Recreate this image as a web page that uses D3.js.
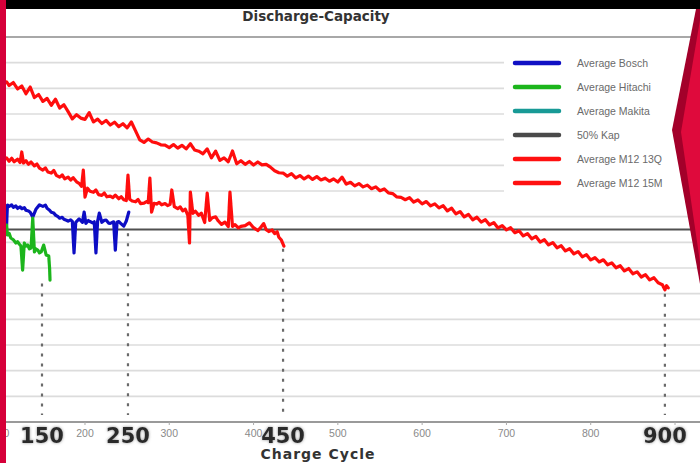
<!DOCTYPE html>
<html><head><meta charset="utf-8">
<script src="https://cdn.jsdelivr.net/npm/d3@7/dist/d3.min.js"></script>
<style>html,body{margin:0;padding:0;background:#fff;overflow:hidden}</style>
</head><body>
<script>
// ---------- DATA ----------
const titleText = "Discharge-Capacity";
const xAxisTitle = "Charge Cycle";
const cycleTicks = [100, 200, 300, 400, 500, 600, 700, 800, 900];
const capacityGridStep = 200;      // mAh between grid lines
const capacityMax = 3000;
const halfCapacity = 1500;         // 50% Kap

const legendNames = ["Average Bosch", "Average Hitachi", "Average Makita", "50% Kap", "Average M12 13Q", "Average M12 15M"];
const legendColors = ["#1010c4", "#1cb51c", "#189a96", "#4a4a4a", "#ff1010", "#ff1010"];

// Average M12 15M (long red series)
const m12LongCycles = [107,110,115,120,125,130,135,140,145,150,155,160,165,170,175,180,185,190,195,200,205,210,215,220,225,230,235,240,245,250,255,260,265,270,275,280,285,290,295,300,305,310,315,320,325,330,335,340,345,350,355,360,365,370,375,380,385,390,395,400,405,410,415,420,425,430,435,440,445,450,455,460,465,470,475,480,485,490,495,500,505,510,515,520,525,530,535,540,545,550,555,560,565,570,575,580,585,590,595,600,605,610,615,620,625,630,635,640,645,650,655,660,665,670,675,680,685,690,695,700,705,710,715,720,725,730,735,740,745,750,755,760,765,770,775,780,785,790,795,800,805,810,815,820,825,830,835,840,845,850,855,860,865,870,875,880,885,888,890,892];
const m12LongValues = [2650,2622,2645,2595,2618,2558,2610,2528,2552,2498,2522,2468,2515,2446,2472,2418,2362,2395,2368,2358,2410,2338,2360,2326,2350,2314,2336,2302,2324,2292,2338,2268,2198,2178,2205,2182,2175,2160,2158,2138,2162,2134,2156,2128,2168,2120,2110,2090,2128,2058,2110,2038,2058,2028,2112,2012,2036,2008,2030,2002,2026,2004,2008,1986,1958,1942,1940,1916,1936,1902,1920,1894,1916,1890,1912,1886,1900,1876,1894,1870,1908,1854,1868,1840,1858,1832,1846,1818,1832,1802,1816,1785,1780,1754,1750,1732,1748,1714,1730,1700,1718,1684,1700,1668,1686,1645,1666,1622,1640,1598,1618,1575,1596,1558,1576,1536,1554,1512,1530,1497,1514,1475,1490,1450,1468,1427,1446,1402,1420,1380,1398,1357,1374,1333,1350,1310,1328,1287,1304,1263,1280,1247,1264,1225,1240,1202,1218,1177,1196,1155,1170,1130,1148,1107,1124,1085,1070,1030,1062,1045];

// Average M12 13Q (shorter red series)
const m12ShortCycles = [107,110,113,116,120,123,125,127,130,133,136,140,143,146,150,153,156,160,163,166,170,173,176,180,183,186,190,193,196,198,200,203,206,210,213,216,220,223,226,230,233,236,240,243,246,249,251,253,256,260,263,266,270,273,275,277,279,282,285,288,291,295,298,301,303,306,310,313,316,319,322,324,325,328,331,335,338,342,345,348,351,355,358,362,366,370,372,375,378,382,385,390,395,400,405,408,412,415,418,422,425,428,430,433,436];
const m12ShortValues = [2057,2032,2055,2028,2048,2022,2104,2018,2036,2008,2026,1996,2010,1978,1963,1980,1948,1940,1960,1922,1908,1926,1895,1908,1886,1904,1872,1860,1836,1963,1753,1822,1798,1790,1808,1772,1766,1784,1755,1760,1748,1768,1740,1756,1732,1726,1924,1736,1722,1716,1734,1702,1706,1718,1710,1901,1636,1704,1698,1712,1692,1702,1686,1696,1808,1678,1662,1676,1646,1658,1610,1395,1792,1626,1642,1610,1628,1554,1784,1570,1592,1598,1568,1540,1558,1522,1792,1524,1538,1512,1524,1530,1552,1514,1492,1512,1546,1498,1484,1496,1468,1482,1440,1418,1370];

// Average Bosch
const boschCycles = [107,108,110,113,115,118,120,123,125,128,130,133,135,138,142,146,150,153,155,158,160,163,165,168,170,173,175,178,180,183,185,187,189,193,197,199,201,204,206,209,211,213,215,217,220,223,225,228,230,234,236,238,240,242,244,246,249,252];
const boschValues = [1535,1691,1680,1692,1672,1684,1664,1676,1662,1670,1650,1644,1634,1597,1660,1692,1680,1690,1665,1650,1634,1628,1612,1600,1588,1595,1580,1572,1565,1575,1563,1317,1556,1582,1556,1636,1548,1570,1562,1552,1560,1317,1566,1628,1556,1572,1574,1550,1548,1560,1340,1556,1562,1550,1538,1526,1566,1636];

// Average Hitachi
const hitachiCycles = [107,108,110,112,115,118,120,122,124,126,128,130,132,134,136,138,140,142,144,146,148,151,154,157,158,158.5];
const hitachiValues = [1535,1457,1470,1434,1420,1395,1405,1387,1371,1184,1395,1370,1379,1350,1356,1589,1325,1348,1340,1318,1325,1379,1301,1293,1200,1106];

// Average Makita: no visible data points
const makitaCycles = [];
const makitaValues = [];

// dotted markers
const markerCycles = [149, 251, 435, 888];
const markerLabels = ["150", "250", "450", "900"];
const markerTops = [1080, 1470, 1350, 1000];
const markerBottom = 55;

// ---------- CHART ----------
const W = 700, H = 463;
const svg = d3.select("body").append("svg").attr("width", W).attr("height", H)
  .style("display", "block");

const x = d3.scaleLinear().domain([100, 900]).range([0.7, 675]);
const y = d3.scaleLinear().domain([0, capacityMax]).range([422, 37]);

const defs = svg.append("defs");
const glow = defs.append("filter").attr("id", "glow").attr("x", "-30%").attr("y", "-30%").attr("width", "160%").attr("height", "160%");
glow.append("feDropShadow").attr("dx", 0).attr("dy", 0).attr("stdDeviation", 1.6).attr("flood-color", "#888").attr("flood-opacity", 0.9);
const soft = defs.append("filter").attr("id", "soft").attr("filterUnits", "userSpaceOnUse")
  .attr("x", 0).attr("y", 0).attr("width", W).attr("height", H);
soft.append("feGaussianBlur").attr("stdDeviation", 0.5);

svg.append("rect").attr("width", W).attr("height", H).attr("fill", "#fff");

// grid lines
const gridVals = d3.range(capacityGridStep, capacityMax, capacityGridStep);
svg.append("g").selectAll("line").data(gridVals).join("line")
  .attr("x1", 0).attr("x2", W)
  .attr("y1", d => y(d)).attr("y2", d => y(d))
  .attr("stroke", "#dcdcdc").attr("stroke-width", 1.6);
svg.append("line").attr("x1", 0).attr("x2", W).attr("y1", y(capacityMax)).attr("y2", y(capacityMax))
  .attr("stroke", "#a8a8a8").attr("stroke-width", 2);

// 50% line
svg.append("line").attr("x1", 0).attr("x2", W).attr("y1", y(halfCapacity)).attr("y2", y(halfCapacity))
  .attr("stroke", "#505050").attr("stroke-width", 2.2);

// data lines
const line = d3.line().x(d => x(d[0])).y(d => y(d[1]));
const series = [
  {c: m12LongCycles, v: m12LongValues, color: legendColors[5]},
  {c: m12ShortCycles, v: m12ShortValues, color: legendColors[4]},
  {c: boschCycles, v: boschValues, color: legendColors[0]},
  {c: hitachiCycles, v: hitachiValues, color: legendColors[1]},
  {c: makitaCycles, v: makitaValues, color: legendColors[2]}
];
svg.append("g").attr("filter", "url(#soft)").selectAll("path").data(series.filter(s => s.c.length)).join("path")
  .attr("d", s => line(s.c.map((c, i) => [c, s.v[i]])))
  .attr("fill", "none").attr("stroke", s => s.color)
  .attr("stroke-width", 3.2).attr("stroke-linejoin", "round").attr("stroke-linecap", "round");

// dotted markers
svg.append("g").selectAll("line").data(markerCycles).join("line")
  .attr("x1", d => x(d)).attr("x2", d => x(d))
  .attr("y1", (d, i) => y(markerTops[i])).attr("y2", y(markerBottom))
  .attr("stroke", "#6a6a6a").attr("stroke-width", 2.2).attr("stroke-dasharray", "3,7");

// legend
const lg = svg.append("g");
lg.append("rect").attr("x", 504).attr("y", 44).attr("width", 196).attr("height", 156).attr("fill", "#fff");
const items = lg.selectAll("g.item").data(legendNames).join("g").attr("class", "item")
  .attr("transform", (d, i) => `translate(0,${63 + i * 24})`);
items.append("line").attr("x1", 515).attr("x2", 559).attr("y1", 0).attr("y2", 0)
  .attr("stroke", (d, i) => legendColors[i]).attr("stroke-width", 4.5).attr("stroke-linecap", "round");
items.append("text").attr("x", 577).attr("y", 4).text(d => d)
  .attr("font-family", "Liberation Sans, Arial, sans-serif").attr("font-size", 10.5).attr("fill", "#6a6a6a");

// x axis
const axisG = svg.append("g").attr("transform", `translate(0,${y(0)})`);
axisG.append("line").attr("x1", 0).attr("x2", W).attr("stroke", "#9a9a9a").attr("stroke-width", 1.8);
axisG.selectAll("line.tick").data(cycleTicks).join("line").attr("class", "tick")
  .attr("x1", d => x(d)).attr("x2", d => x(d)).attr("y1", 0).attr("y2", 3)
  .attr("stroke", "#aaa").attr("stroke-width", 1);
// small tick labels, except where a big marker label sits on top of them
const visibleTicks = cycleTicks.filter(t => !markerCycles.some(m => Math.abs(x(m) - x(t)) < 16));
axisG.selectAll("text.tick").data(visibleTicks).join("text").attr("class", "tick")
  .attr("x", d => x(d)).attr("y", 15).attr("text-anchor", "middle").text(d => d)
  .attr("font-family", "Liberation Sans, Arial, sans-serif").attr("font-size", 10.5).attr("fill", "#8a8a8a");

// big marker labels
svg.append("g").selectAll("text").data(markerCycles).join("text")
  .attr("x", d => x(d)).attr("y", 443).attr("text-anchor", "middle")
  .text((d, i) => markerLabels[i])
  .attr("font-family", "DejaVu Sans, sans-serif").attr("font-weight", "bold").attr("font-size", 21)
  .attr("fill", "#2a2a2a").attr("filter", "url(#glow)");

// axis title
svg.append("text").attr("x", 318).attr("y", 459).attr("text-anchor", "middle").text(xAxisTitle)
  .attr("font-family", "DejaVu Sans, sans-serif").attr("font-weight", "bold").attr("font-size", 14)
  .attr("letter-spacing", 1).attr("fill", "#333");

// title
svg.append("text").attr("x", 316).attr("y", 21).attr("text-anchor", "middle").text(titleText)
  .attr("font-family", "DejaVu Sans, sans-serif").attr("font-weight", "bold").attr("font-size", 13.5)
  .attr("fill", "#333");

// frame decorations
svg.append("rect").attr("x", 0).attr("y", 0).attr("width", W).attr("height", 9).attr("fill", "#000");
svg.append("polygon").attr("points", "696,9 700,9 700,284 672,130").attr("fill", "#a3002a");
svg.append("polygon").attr("points", "702,9 700,20 681,132 700,262 700,9").attr("fill", "#df0a3c");
svg.append("rect").attr("x", 0).attr("y", 0).attr("width", 6).attr("height", H).attr("fill", "#d6003a");
</script>
</body></html>
